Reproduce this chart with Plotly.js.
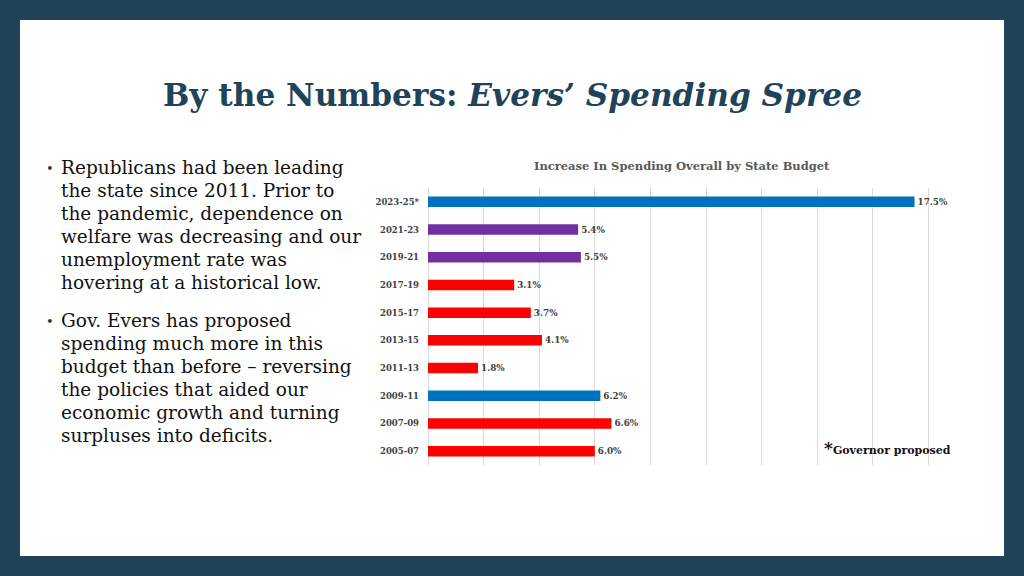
<!DOCTYPE html>
<html><head><meta charset="utf-8">
<script src="https://cdn.plot.ly/plotly-3.0.1.min.js"></script>
<style>html,body{margin:0;padding:0;background:#1F4359;}#chart{width:1024px;height:576px;}</style>
</head><body><div id="chart"></div>
<script>
const categories = ["2023-25*","2021-23","2019-21","2017-19","2015-17","2013-15","2011-13","2009-11","2007-09","2005-07"];
const values = [17.5,5.4,5.5,3.1,3.7,4.1,1.8,6.2,6.6,6.0];
const barColors = ["#0070C0","#7030A0","#7030A0","#FF0000","#FF0000","#FF0000","#FF0000","#0070C0","#FF0000","#FF0000"];
const bullet1 = ["Republicans had been leading","the state since 2011. Prior to","the pandemic, dependence on","welfare was decreasing and our","unemployment rate was","hovering at a historical low."];
const bullet2 = ["Gov. Evers has proposed","spending much more in this","budget than before \u2013 reversing","the policies that aided our","economic growth and turning","surpluses into deficits."];

const W=1024,H=576, L=428,R=984,T=188,B=465;
const px=x=>(x-L)/(R-L), py=y=>(B-y)/(B-T);
const serif = "DejaVu Serif, Liberation Serif, serif";
const anns = [];
function addLine(txt,x,y,size,color,anchor){
  anns.push({text:txt,xref:'paper',yref:'paper',x:px(x),y:py(y),xanchor:anchor||'left',yanchor:'middle',showarrow:false,font:{family:serif,size:size,color:color||'#111'}});
}
bullet1.forEach((t,i)=>addLine(t,59,167+i*23,18.5));
bullet2.forEach((t,i)=>addLine(t,59,320+i*23,18.5));
addLine("\u2022",44,168,13,'#333');
addLine("\u2022",44,321,13,'#333');
addLine("<b>By the Numbers: <i>Evers\u2019 Spending Spree</i></b>",512,95,31.2,'#1F4359','center');
addLine("<b>Increase In Spending Overall by State Budget</b>",682,166,11.5,'#595959','center');
addLine("<b><span style='font-size:17px'>*</span>Governor proposed</b>",822,448,11,'#111');

const trace = {
  type:'bar', orientation:'h', y:categories, x:values,
  marker:{color:barColors}, width:0.38,
  text:values.map(v=>v.toFixed(1)+'%'), textposition:'outside', cliponaxis:false,
  textfont:{family:serif,size:8.8,color:'#404040',weight:'bold'},
  hoverinfo:'skip'
};
const layout = {
  width:W,height:H, paper_bgcolor:'#1F4359', plot_bgcolor:'rgba(0,0,0,0)',
  margin:{l:L,r:W-R,t:T,b:H-B}, showlegend:false,
  xaxis:{range:[0,20],dtick:2,showticklabels:false,showgrid:true,gridcolor:'#D9D9D9',gridwidth:1,zeroline:true,zerolinecolor:'#D9D9D9',ticks:'',fixedrange:true},
  yaxis:{autorange:'reversed',type:'category',ticks:'',ticklabelstandoff:8,tickfont:{family:serif,size:8.5,color:'#404040',weight:'bold'},showgrid:false,zeroline:false,fixedrange:true},
  shapes:[{type:'rect',xref:'paper',yref:'paper',x0:px(20),x1:px(1004),y0:py(556),y1:py(20),fillcolor:'#FFFFFF',line:{width:0},layer:'below'}],
  annotations:anns
};
Plotly.newPlot('chart',[trace],layout,{displayModeBar:false,staticPlot:true});
</script></body></html>
